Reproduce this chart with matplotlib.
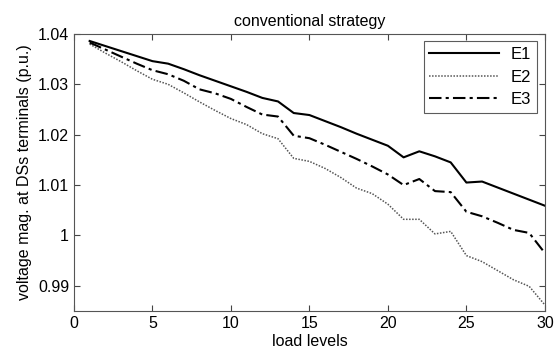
import matplotlib
matplotlib.use("Agg")
import matplotlib.pyplot as plt

load_levels = list(range(1, 31))

e1 = [1.0386, 1.0376, 1.0366, 1.0356, 1.0346, 1.0341, 1.0330, 1.0318, 1.0307, 1.0296,
      1.0285, 1.0273, 1.0266, 1.0243, 1.0239, 1.0227, 1.0215, 1.0202, 1.0190, 1.0178,
      1.0155, 1.0167, 1.0157, 1.0145, 1.0105, 1.0107, 1.0095, 1.0083, 1.0071, 1.0059]
e2 = [1.0380, 1.0362, 1.0345, 1.0327, 1.0310, 1.0300, 1.0283, 1.0265, 1.0248, 1.0232,
      1.0220, 1.0202, 1.0192, 1.0153, 1.0147, 1.0133, 1.0115, 1.0094, 1.0083, 1.0062,
      1.0032, 1.0032, 1.0003, 1.0008, 0.9960, 0.9948, 0.9930, 0.9912, 0.9899, 0.9862]
e3 = [1.0383, 1.0369, 1.0355, 1.0341, 1.0328, 1.0320, 1.0307, 1.0290, 1.0282, 1.0271,
      1.0255, 1.0240, 1.0236, 1.0198, 1.0193, 1.0180, 1.0166, 1.0152, 1.0137, 1.0121,
      1.0100, 1.0112, 1.0088, 1.0086, 1.0047, 1.0038, 1.0025, 1.0011, 1.0005, 0.9965]

plt.rcParams["font.family"] = ["Liberation Sans", "DejaVu Sans"]
plt.rcParams["font.size"] = 11.5

fig = plt.figure(figsize=(5.56, 3.61), dpi=100)
ax = fig.add_axes([0.133, 0.1385, 0.847, 0.7675])

ax.plot(load_levels, e1, color="black", linewidth=1.5, linestyle="-", label="E1")
ax.plot(load_levels, e2, color="#555555", linewidth=1.1, linestyle=(0, (1, 1)), label="E2")
ax.plot(load_levels, e3, color="black", linewidth=1.5, linestyle=(0, (6, 2, 1.5, 2)), label="E3")

ax.set_xlim(0, 30)
ax.set_ylim(0.985, 1.04)
ax.set_xticks([0, 5, 10, 15, 20, 25, 30])
ax.set_yticks([0.99, 1.0, 1.01, 1.02, 1.03, 1.04])
ax.set_yticklabels(["0.99", "1", "1.01", "1.02", "1.03", "1.04"])
ax.tick_params(direction="in", length=4, top=True, right=True, color="#444444")
for sp in ax.spines.values():
    sp.set_color("#555555")

ax.set_title("conventional strategy", fontsize=11.5, pad=6)
ax.set_xlabel("load levels", labelpad=2)
ax.set_ylabel("voltage mag. at DSs terminals (p.u.)", labelpad=4)

leg = ax.legend(loc="upper right", fancybox=False, edgecolor="#333333", fontsize=12,
                handlelength=4.2, borderaxespad=0.45, labelspacing=0.45,
                handletextpad=0.7, borderpad=0.35)
leg.get_frame().set_linewidth(0.8)

fig.savefig("out.png", dpi=100)
